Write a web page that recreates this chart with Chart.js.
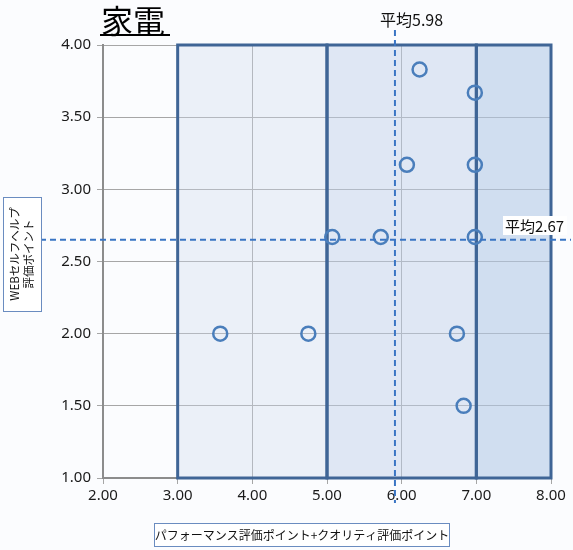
<!DOCTYPE html>
<html><head><meta charset="utf-8">
<script src="https://cdn.jsdelivr.net/npm/chart.js@4"></script>
<style>html,body{margin:0;padding:0;background:#fbfcfe;}#wrap{width:573px;height:550px;position:relative;}</style>
</head><body><div id="wrap"><canvas id="c" width="573" height="550"></canvas></div>
<script>
const titleText = "家電";
const xAxisTitle = "パフォーマンス評価ポイント+クオリティ評価ポイント";
const yAxisTitle = ["WEBセルフヘルプ", "評価ポイント"];
const xValues = [3.57, 4.75, 5.07, 5.72, 6.24, 6.07, 6.98, 6.98, 6.98, 6.74, 6.83];
const yValues = [2.00, 2.00, 2.67, 2.67, 3.83, 3.17, 3.67, 3.17, 2.67, 2.00, 1.50];
const avgXPos = 5.91, avgYPos = 2.65;
const avgXLabel = "平均5.98", avgYLabel = "平均2.67";
const zoneEdges = [3, 5, 7, 8];
const zoneFills = ["rgba(205,218,238,0.35)", "rgba(192,210,234,0.48)", "rgba(178,200,229,0.58)"];
const zoneY = [1, 4];

const overlay = {
  id: 'overlay',
  beforeDatasetsDraw(chart) {
    const {ctx, scales: {x, y}} = chart;
    const top = y.getPixelForValue(zoneY[1]), bot = y.getPixelForValue(zoneY[0]);
    ctx.save();
    for (let i = 0; i < zoneFills.length; i++) {
      const l = x.getPixelForValue(zoneEdges[i]), r = x.getPixelForValue(zoneEdges[i+1]);
      ctx.fillStyle = zoneFills[i];
      ctx.fillRect(l, top, r - l, bot - top);
    }
    ctx.strokeStyle = '#3f6596';
    ctx.lineWidth = 3;
    for (let i = 0; i < zoneFills.length; i++) {
      const l = x.getPixelForValue(zoneEdges[i]), r = x.getPixelForValue(zoneEdges[i+1]);
      ctx.strokeRect(l, top, r - l, bot - top);
    }
    ctx.restore();
  },
  afterDatasetsDraw(chart) {
    const {ctx, scales: {x, y}} = chart;
    ctx.save();
    ctx.strokeStyle = '#3a75c4';
    ctx.lineWidth = 2;
    ctx.setLineDash([6, 4]);
    const vx = x.getPixelForValue(avgXPos);
    ctx.beginPath(); ctx.moveTo(vx, 30); ctx.lineTo(vx, 503); ctx.stroke();
    const hy = y.getPixelForValue(avgYPos);
    ctx.beginPath(); ctx.moveTo(20, hy); ctx.lineTo(571, hy); ctx.stroke();
    ctx.setLineDash([]);
    // labels
    ctx.font = '16px "Noto Sans CJK JP"';
    ctx.textBaseline = 'middle';
    ctx.fillStyle = '#111';
    ctx.textAlign = 'left';
    ctx.fillText(avgXLabel, 380, 20);
    ctx.font = '15px "Noto Sans CJK JP"';
    const w = ctx.measureText(avgYLabel).width;
    ctx.fillStyle = '#ffffff';
    ctx.fillRect(503, 216, w + 5, 19);
    ctx.fillStyle = '#111';
    ctx.fillText(avgYLabel, 505, 226);
    // title
    ctx.font = '32px "Noto Sans CJK JP"';
    ctx.textBaseline = 'alphabetic';
    ctx.fillStyle = '#000';
    ctx.fillText(titleText, 101, 33);
    const tw = ctx.measureText(titleText).width;
    ctx.fillRect(100, 34, tw + 6, 2);
    // y axis title box
    ctx.fillStyle = '#ffffff';
    ctx.fillRect(3, 197, 39, 115);
    ctx.strokeStyle = '#6a8cc0';
    ctx.lineWidth = 1;
    ctx.strokeRect(3.5, 197.5, 38, 114);
    ctx.save();
    ctx.translate(22, 254);
    ctx.rotate(-Math.PI / 2);
    ctx.font = '11.5px "Noto Sans CJK JP"';
    ctx.fillStyle = '#111';
    ctx.textAlign = 'center';
    ctx.textBaseline = 'middle';
    ctx.fillText(yAxisTitle[0], 0, -7);
    ctx.fillText(yAxisTitle[1], 0, 7);
    ctx.restore();
    // x axis title box
    ctx.fillStyle = '#ffffff';
    ctx.fillRect(154, 523, 296, 24);
    ctx.strokeStyle = '#6a8cc0';
    ctx.strokeRect(154.5, 523.5, 295, 23);
    ctx.font = '12px "Noto Sans CJK JP"';
    ctx.fillStyle = '#111';
    ctx.textAlign = 'center';
    ctx.textBaseline = 'middle';
    ctx.fillText(xAxisTitle, 302, 535);
    ctx.restore();
  }
};

new Chart(document.getElementById('c'), {
  type: 'scatter',
  data: {
    datasets: [{
      data: xValues.map((v, i) => ({x: v, y: yValues[i]})),
      borderColor: '#4a7ebb',
      backgroundColor: 'rgba(0,0,0,0)',
      borderWidth: 2.5,
      pointRadius: 7,
      pointHoverRadius: 7
    }]
  },
  options: {
    responsive: false,
    animation: false,
    layout: {padding: {left: 0, right: 22, top: 45, bottom: 0}},
    plugins: {legend: {display: false}, tooltip: {enabled: false}},
    scales: {
      x: {
        type: 'linear', min: 2, max: 8,
        afterFit(s) { s.height = 72; },
        ticks: {stepSize: 1, callback: v => Number(v).toFixed(2), color: '#1a1a1a', font: {family: 'Noto Sans', size: 15}, padding: 3, maxRotation: 0},
        grid: {color: '#a6a6a6', lineWidth: 1, tickLength: 6, drawOnChartArea: true},
        border: {color: '#8c8c8c', width: 2}
      },
      y: {
        type: 'linear', min: 1, max: 4,
        afterFit(s) { s.width = 103; },
        ticks: {stepSize: 0.5, callback: v => Number(v).toFixed(2), color: '#1a1a1a', font: {family: 'Noto Sans', size: 15}, padding: 6},
        grid: {color: '#a6a6a6', lineWidth: 1, tickLength: 6},
        border: {color: '#8c8c8c', width: 2}
      }
    }
  },
  plugins: [overlay]
});
</script></body></html>
